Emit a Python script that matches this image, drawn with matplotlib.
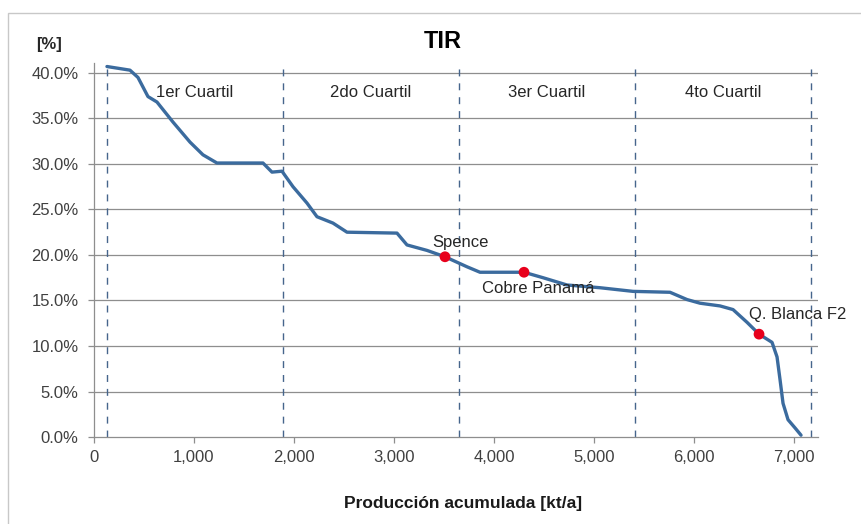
import numpy as np
import matplotlib
matplotlib.use("Agg")
import matplotlib.pyplot as plt
from matplotlib.patches import Rectangle
from matplotlib.ticker import FuncFormatter, MultipleLocator

plt.rcParams["font.family"] = ["Liberation Sans", "DejaVu Sans"]

# ------------------------------------------------------------
# DATA
# ------------------------------------------------------------
# cumulative production [kt/a] and IRR [%] along the cost curve
prod = [130, 360, 440, 540, 630, 790, 960, 1090, 1230, 1690, 1780, 1880,
        1990, 2130, 2230, 2390, 2530, 3030, 3130, 3330, 3510, 3730, 3860,
        4060, 4300, 4490, 4730, 5060, 5390, 5760, 5930, 6060, 6260, 6390,
        6530, 6650, 6780, 6830, 6860, 6890, 6940, 7010, 7070]
tir = [40.7, 40.3, 39.5, 37.4, 36.8, 34.6, 32.4, 31.0, 30.1, 30.1, 29.1, 29.2,
       27.5, 25.7, 24.2, 23.5, 22.5, 22.4, 21.1, 20.5, 19.8, 18.7, 18.1,
       18.1, 18.1, 17.5, 16.7, 16.4, 16.0, 15.9, 15.1, 14.7, 14.4, 14.0,
       12.6, 11.3, 10.4, 8.8, 6.3, 3.7, 1.9, 1.0, 0.2]

# highlighted projects
proj_names = ["Spence", "Cobre Panamá", "Q. Blanca F2"]
proj_x = [3510, 4300, 6650]
proj_y = [19.8, 18.1, 11.3]

# quartile boundaries
quart_bounds = [130, 1890, 3650, 5410, 7170]
quart_labels = ["1er Cuartil", "2do Cuartil", "3er Cuartil", "4to Cuartil"]

# ------------------------------------------------------------
# PLOT
# ------------------------------------------------------------
fig = plt.figure(figsize=(8.62, 5.24), dpi=100)
ax = fig.add_axes([0.109, 0.166, 0.840, 0.714])

# light chart-area border
fig.patches.append(Rectangle((8 / 862, -0.01), 1.0, 1 - 13 / 524 + 0.01,
                             transform=fig.transFigure, fill=False,
                             edgecolor="#c8c8c8", lw=1.0))

for y in np.arange(5, 41, 5):
    ax.axhline(y, color="#8e8e8e", lw=0.9, zorder=1)

for xb in quart_bounds:
    ax.axvline(xb, color="#46658c", lw=1.0, ls=(0, (5, 5)), zorder=2)

for i, lab in enumerate(quart_labels):
    xc = (quart_bounds[i] + quart_bounds[i + 1]) / 2
    ax.text(xc, 37.8, lab, ha="center", va="center", fontsize=12,
            color="#262626")

ax.plot(prod, tir, color="#3b6b9e", lw=2.4, solid_capstyle="round",
        solid_joinstyle="round", zorder=3)
ax.scatter(proj_x, proj_y, s=60, color="#e8001c", zorder=4, edgecolors="none")

ax.text(3380, 21.4, proj_names[0], ha="left", va="center", fontsize=12,
        color="#262626", zorder=5)
ax.text(4440, 16.3, proj_names[1], ha="center", va="center", fontsize=12,
        color="#262626", zorder=5)
ax.text(7040, 13.5, proj_names[2], ha="center", va="center", fontsize=12,
        color="#262626", zorder=5)

ax.set_xlim(0, 7240)
ax.set_ylim(0, 41.1)
ax.xaxis.set_major_locator(MultipleLocator(1000))
ax.set_yticks(np.arange(0, 41, 5))
ax.xaxis.set_major_formatter(FuncFormatter(lambda v, p: f"{v:,.0f}"))
ax.yaxis.set_major_formatter(FuncFormatter(lambda v, p: f"{v:.1f}%"))

for s in ["top", "right"]:
    ax.spines[s].set_visible(False)
for s in ["left", "bottom"]:
    ax.spines[s].set_color("#8e8e8e")
    ax.spines[s].set_linewidth(0.9)

ax.tick_params(axis="both", colors="#8e8e8e", labelcolor="#404040",
               labelsize=12, length=4, width=0.9)
ax.tick_params(axis="x", pad=5)
ax.tick_params(axis="y", pad=7)

ax.set_xlabel("Producción acumulada [kt/a]", fontsize=12.5,
              fontweight="bold", labelpad=23, color="#1a1a1a")
ax.xaxis.label.set_x((463 - 94) / (818 - 94))
fig.text(443 / 862, 1 - 41 / 524, "TIR", ha="center", va="center",
         fontsize=17, fontweight="bold")
fig.text(49 / 862, 1 - 45 / 524, "[%]", ha="center", va="center",
         fontsize=12, fontweight="bold", color="#262626")

fig.savefig("out.png", dpi=100)
